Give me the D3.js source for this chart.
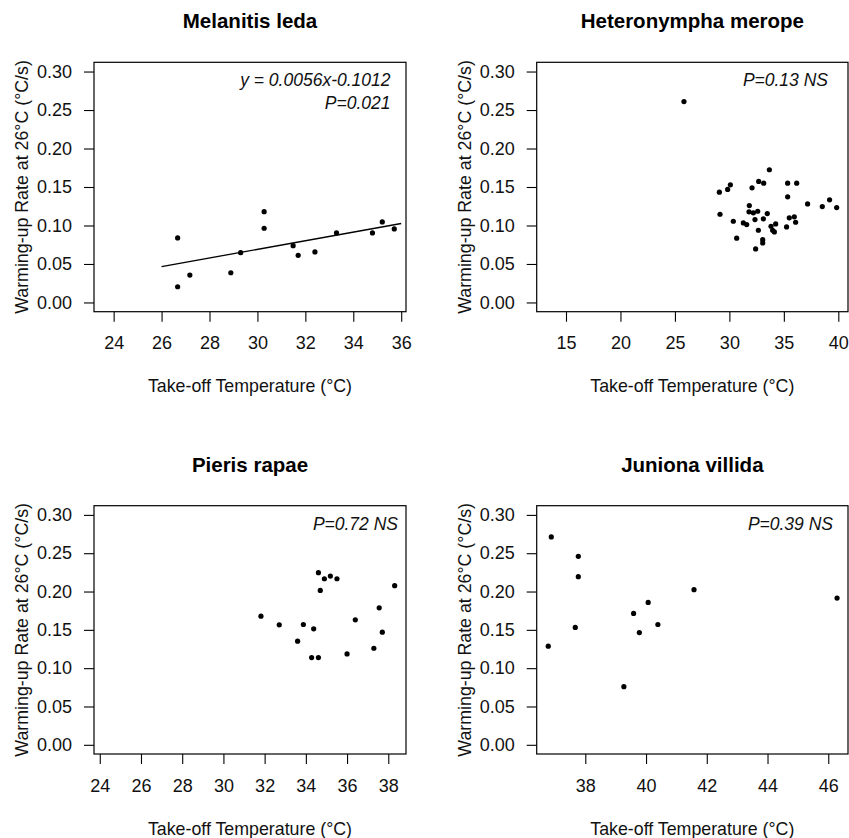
<!DOCTYPE html>
<html>
<head>
<meta charset="utf-8">
<script src="https://cdn.jsdelivr.net/npm/d3@7"></script>
<style>
  html, body { margin: 0; padding: 0; background: #fff; }
  svg { display: block; font-family: "Liberation Sans", Arial, sans-serif; }
</style>
</head>
<body>
<svg id="chart" width="849" height="838"></svg>
<script>
// ---------------- data ----------------
const titles = ["Melanitis leda", "Heteronympha merope", "Pieris rapae", "Juniona villida"];
const annotations = [
  ["y = 0.0056x-0.1012", "P=0.021"],
  ["P=0.13 NS"],
  ["P=0.72 NS"],
  ["P=0.39 NS"]
];
const xAxisLabel = "Take-off Temperature (°C)";
const yAxisLabel = "Warming-up Rate at 26°C (°C/s)";

const yTicks = [0.00, 0.05, 0.10, 0.15, 0.20, 0.25, 0.30];
const xTicksLeda = [24, 26, 28, 30, 32, 34, 36];
const xTicksMerope = [15, 20, 25, 30, 35, 40];
const xTicksRapae = [24, 26, 28, 30, 32, 34, 36, 38];
const xTicksVillida = [38, 40, 42, 44, 46];

const ledaX = [26.67, 26.67, 27.18, 28.89, 29.30, 30.28, 30.28, 31.49, 31.70, 32.40, 33.30, 34.80, 35.21, 35.71];
const ledaY = [0.0838, 0.0204, 0.0356, 0.0386, 0.0647, 0.118, 0.0964, 0.0738, 0.0612, 0.0656, 0.0903, 0.0903, 0.1046, 0.0955];
const ledaFit = { slope: 0.0056, intercept: -0.0990, from: 26, to: 36 };

const meropeX = [25.83, 33.67, 32.69, 33.15, 35.35, 36.18, 30.09, 29.84, 29.08, 32.08, 35.35, 37.18, 39.20, 38.53, 39.85, 29.14, 30.36,
  31.83, 31.80, 32.20, 32.60, 32.35, 33.12, 33.48, 31.28, 31.59, 30.67, 32.66, 33.82, 33.97, 34.13, 34.25, 35.25, 35.50, 35.96, 36.08, 33.06, 33.06, 32.41];
const meropeY = [0.261, 0.1724, 0.1572, 0.155, 0.155, 0.155, 0.1528, 0.1468, 0.1433, 0.1489, 0.1372, 0.128, 0.1333, 0.1246, 0.1233, 0.1146, 0.1055,
  0.1259, 0.1177, 0.1164, 0.1185, 0.1077, 0.1086, 0.1155, 0.1033, 0.1012, 0.0835, 0.0938, 0.099, 0.0938, 0.0916, 0.102, 0.0981, 0.1099, 0.1112, 0.1042, 0.0816, 0.0773, 0.0695];

const rapaeX = [31.82, 32.71, 33.60, 33.88, 34.38, 34.28, 34.61, 34.61, 34.70, 34.90, 35.19, 35.51, 36.00, 36.40, 37.30, 37.56, 37.71, 38.31];
const rapaeY = [0.1679, 0.1566, 0.1352, 0.157, 0.1513, 0.1138, 0.1138, 0.2246, 0.2015, 0.2167, 0.2202, 0.2167, 0.1186, 0.1631, 0.126, 0.1788, 0.147, 0.2076];

const villidaX = [36.88, 36.78, 37.77, 37.77, 37.67, 39.27, 39.59, 39.78, 40.07, 40.39, 41.58, 46.29];
const villidaY = [0.2713, 0.1287, 0.246, 0.2194, 0.1531, 0.0759, 0.1714, 0.1465, 0.1858, 0.157, 0.2024, 0.1915];

// ---------------- layout ----------------
const yDomain = [-0.012, 0.312];
const panels = [
  { xs: ledaX, ys: ledaY, ticks: xTicksLeda, xDomain: [23.18, 36.2], box: [94, 406, 62.3, 311.7], inset: 15.5, fit: ledaFit },
  { xs: meropeX, ys: meropeY, ticks: xTicksMerope, xDomain: [12.31, 40.89], box: [536.7, 848, 62.3, 311.7], inset: 20 },
  { xs: rapaeX, ys: rapaeY, ticks: xTicksRapae, xDomain: [23.72, 38.86], box: [94, 406, 505.7, 754], inset: 8 },
  { xs: villidaX, ys: villidaY, ticks: xTicksVillida, xDomain: [36.4, 46.65], box: [536.7, 848, 505.7, 754], inset: 15 }
];

const svg = d3.select("#chart");
const fmt = d3.format(".2f");
const tickLen = 10;

panels.forEach((p, i) => {
  const [L, R, T, B] = p.box;
  const x = d3.scaleLinear().domain(p.xDomain).range([L, R]);
  const y = d3.scaleLinear().domain(yDomain).range([B, T]);
  const g = svg.append("g");

  // title
  g.append("text")
    .attr("x", (L + R) / 2).attr("y", T - 34)
    .attr("text-anchor", "middle")
    .attr("font-weight", "bold").attr("font-size", 20.5)
    .text(titles[i]);

  // x axis
  const xAx = d3.axisBottom(x).tickValues(p.ticks).tickSize(tickLen).tickPadding(15).tickFormat(d3.format("d"));
  const gx = g.append("g").attr("transform", `translate(0,${B})`).call(xAx);
  gx.select(".domain").remove();
  gx.selectAll("line").attr("stroke", "#000").attr("stroke-width", 1.1);
  gx.selectAll("text").attr("font-size", 18).attr("fill", "#111").attr("font-family", "Liberation Sans, Arial, sans-serif");

  // y axis
  const yAx = d3.axisLeft(y).tickValues(yTicks).tickSize(tickLen).tickPadding(12).tickFormat(fmt);
  const gy = g.append("g").attr("transform", `translate(${L},0)`).call(yAx);
  gy.select(".domain").remove();
  gy.selectAll("line").attr("stroke", "#000").attr("stroke-width", 1.1);
  gy.selectAll("text").attr("font-size", 18).attr("fill", "#111").attr("font-family", "Liberation Sans, Arial, sans-serif");

  // box
  g.append("rect")
    .attr("x", L).attr("y", T).attr("width", R - L).attr("height", B - T)
    .attr("fill", "none").attr("stroke", "#000").attr("stroke-width", 1.2);

  // axis labels
  g.append("text")
    .attr("x", (L + R) / 2).attr("y", B + 80.6)
    .attr("text-anchor", "middle").attr("font-size", 17.8).attr("fill", "#111")
    .text(xAxisLabel);
  g.append("text")
    .attr("transform", `translate(${L - 66},${(T + B) / 2}) rotate(-90)`)
    .attr("text-anchor", "middle").attr("font-size", 17.8).attr("fill", "#111")
    .text(yAxisLabel);

  // fit line
  if (p.fit) {
    const f = p.fit;
    const pts = [f.from, f.to].map(v => [x(v), y(f.slope * v + f.intercept)]);
    g.append("path")
      .attr("d", d3.line()(pts))
      .attr("stroke", "#000").attr("stroke-width", 1.3).attr("fill", "none");
  }

  // points
  g.append("g").selectAll("circle")
    .data(p.xs.map((v, k) => [v, p.ys[k]]))
    .join("circle")
    .attr("cx", d => x(d[0])).attr("cy", d => y(d[1]))
    .attr("r", 2.6).attr("fill", "#000");

  // annotation
  annotations[i].forEach((line, k) => {
    g.append("text")
      .attr("x", R - p.inset).attr("y", T + 24 + k * 22.7)
      .attr("text-anchor", "end").attr("font-style", "italic")
      .attr("font-size", 17.5).attr("fill", "#111")
      .text(line);
  });
});
</script>
</body>
</html>
